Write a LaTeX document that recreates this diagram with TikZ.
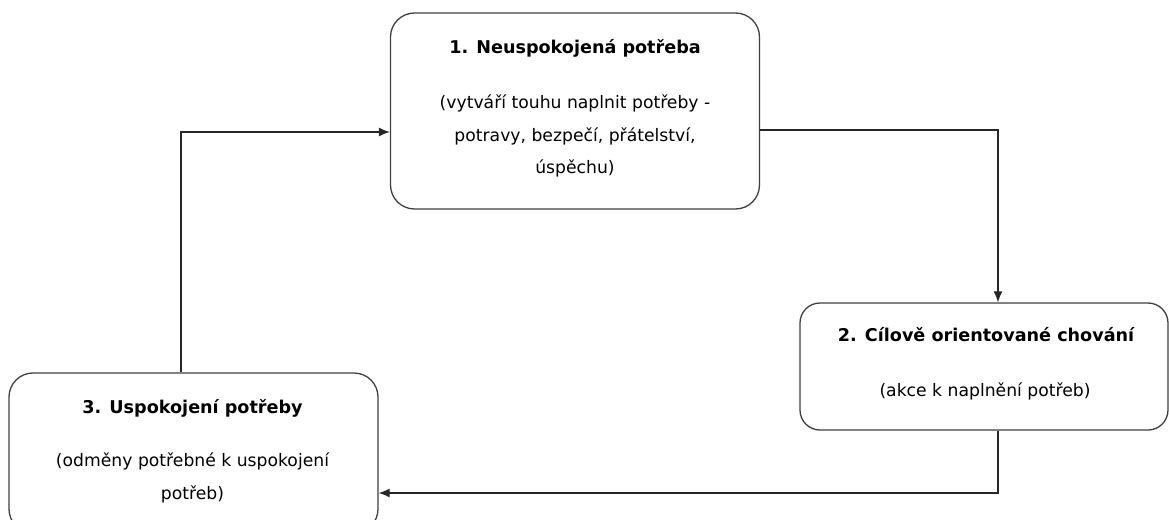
\documentclass[tikz,border=0pt]{standalone}
\usepackage{fontspec}
\setmainfont{DejaVu Sans}
\usetikzlibrary{arrows.meta}
\tikzset{
  stagebox/.style={draw=black!75, line width=1.3pt, rounded corners=24pt,
    inner sep=0pt, fill=white},
  stagetitle/.style={font=\fontsize{17.6}{20}\selectfont\bfseries, inner sep=0pt},
  stagetext/.style={font=\fontsize{17.2}{32.5}\selectfont, align=center, inner sep=0pt},
  flow/.style={draw=black!85, line width=1.2pt, -{Latex[length=11pt,width=9pt]}}
}
\begin{document}
\begin{tikzpicture}[x=1pt,y=-1pt]
  \useasboundingbox (0,0) rectangle (1169,519);
  \clip (0,0) rectangle (1169,519);
  % stage boxes
  \node[stagebox, minimum width=369pt, minimum height=196pt] (n1) at (575,111) {};
  \node[stagebox, minimum width=368pt, minimum height=127pt, rounded corners=20pt] (n2) at (984,366.5) {};
  \node[stagebox, minimum width=369pt, minimum height=160pt] (n3) at (193.5,453) {};
  % labels
  \node[stagetitle] (t1) at (575,48) {1. Neuspokojená potřeba};
  \node[stagetext, anchor=north] (b1) at (575,95) {(vytváří touhu naplnit potřeby -\\potravy, bezpečí, přátelství,\\úspěchu)};
  \node[stagetitle] (t2) at (986,335) {2. Cílově orientované chování};
  \node[stagetext] (b2) at (985,391) {(akce k naplnění potřeb)};
  \node[stagetitle] (t3) at (192.5,408) {3. Uspokojení potřeby};
  \node[stagetext, anchor=north] (b3) at (192.5,453) {(odměny potřebné k uspokojení\\potřeb)};
  % cycle connectors
  \coordinate (c12) at (998,130);
  \coordinate (c23) at (998,493);
  \coordinate (c31) at (181,132);
  \draw[flow] (n1.east |- c12) -- (c12) -- (c12 |- n2.north);
  \draw[flow] (c23 |- n2.south) -- (c23) -- (c23 -| n3.east);
  \draw[flow] (c31 |- n3.north) -- (c31) -- (c31 -| n1.west);
\end{tikzpicture}
\end{document}
